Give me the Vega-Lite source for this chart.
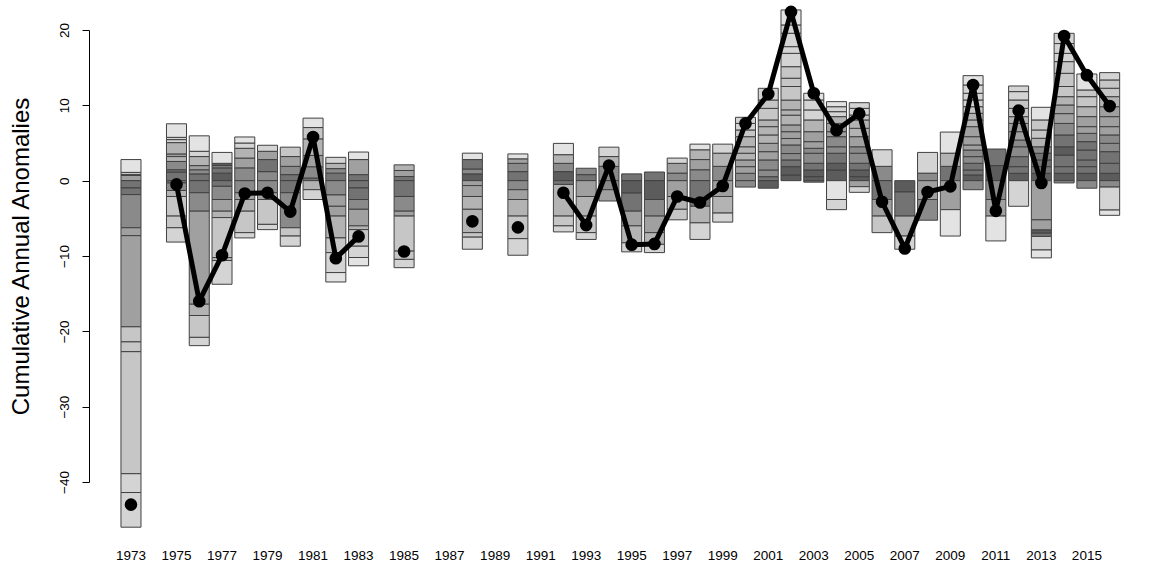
{
"$schema":"https://vega.github.io/schema/vega-lite/v6.json",
"width":1066,"height":452,"autosize":"none",
"padding":{"left":89,"top":30,"right":0,"bottom":85},
"background":"white",
"config":{"view":{"stroke":null},"font":"Liberation Sans",
 "axisY":{"labelAngle":270,"labelAlign":"center","labelBaseline":"bottom","labelFontSize":13.5,"labelColor":"black","tickColor":"black","domainColor":"black","tickSize":7,"labelPadding":11,"grid":false,"titleFontSize":24,"titleFontWeight":"normal","titleColor":"black","titleX":-61,"titleY":226,"titleBaseline":"alphabetic","titleAngle":270},
 "axisX":{"domain":false,"ticks":false,"labelFontSize":13.5,"labelColor":"black","labelPadding":66,"labelAngle":0,"grid":false}},
"datasets":{
"seg":[
{"year":1973,"v":0.7,"g":5,"k":1},{"year":1973,"v":0.1,"g":4,"k":2},{"year":1973,"v":0.3,"g":3,"k":3},{"year":1973,"v":1.7,"g":1,"k":4},
{"year":1973,"v":-0.97,"g":7,"k":5},{"year":1973,"v":-0.88,"g":7,"k":6},{"year":1973,"v":-4.4,"g":6,"k":7},{"year":1973,"v":-1.05,"g":5,"k":8},{"year":1973,"v":-12.1,"g":5,"k":9},{"year":1973,"v":-2.0,"g":3,"k":10},{"year":1973,"v":-1.3,"g":3,"k":11},{"year":1973,"v":-16.2,"g":3,"k":12},{"year":1973,"v":-2.5,"g":2,"k":13},{"year":1973,"v":-4.6,"g":2,"k":14},
{"year":1975,"v":1.15,"g":7,"k":1},{"year":1975,"v":0.3,"g":7,"k":2},{"year":1975,"v":1.1,"g":6,"k":3},{"year":1975,"v":0.65,"g":4,"k":4},{"year":1975,"v":0.35,"g":5,"k":5},{"year":1975,"v":1.5,"g":4,"k":6},{"year":1975,"v":0.4,"g":2,"k":7},{"year":1975,"v":0.3,"g":2,"k":8},{"year":1975,"v":1.8,"g":1,"k":9},
{"year":1975,"v":-0.3,"g":7,"k":10},{"year":1975,"v":-1.0,"g":6,"k":11},{"year":1975,"v":-0.8,"g":4,"k":12},{"year":1975,"v":-2.6,"g":3,"k":13},{"year":1975,"v":-1.55,"g":3,"k":14},{"year":1975,"v":-1.9,"g":2,"k":15},
{"year":1976,"v":0.9,"g":7,"k":1},{"year":1976,"v":0.55,"g":6,"k":2},{"year":1976,"v":0.55,"g":5,"k":3},{"year":1976,"v":1.2,"g":4,"k":4},{"year":1976,"v":0.7,"g":2,"k":5},{"year":1976,"v":2.05,"g":1,"k":6},
{"year":1976,"v":-1.6,"g":7,"k":7},{"year":1976,"v":-2.45,"g":6,"k":8},{"year":1976,"v":-12.35,"g":5,"k":9},{"year":1976,"v":-1.5,"g":4,"k":10},{"year":1976,"v":-2.9,"g":3,"k":11},{"year":1976,"v":-1.1,"g":2,"k":12},
{"year":1977,"v":1.0,"g":8,"k":1},{"year":1977,"v":0.7,"g":7,"k":2},{"year":1977,"v":0.3,"g":6,"k":3},{"year":1977,"v":0.3,"g":8,"k":4},{"year":1977,"v":1.45,"g":1,"k":5},
{"year":1977,"v":-0.75,"g":7,"k":6},{"year":1977,"v":-1.75,"g":6,"k":7},{"year":1977,"v":-1.55,"g":5,"k":8},{"year":1977,"v":-0.85,"g":4,"k":9},{"year":1977,"v":-5.3,"g":3,"k":10},{"year":1977,"v":-0.4,"g":4,"k":11},{"year":1977,"v":-3.15,"g":2,"k":12},
{"year":1978,"v":1.7,"g":6,"k":1},{"year":1978,"v":1.3,"g":5,"k":2},{"year":1978,"v":1.3,"g":4,"k":3},{"year":1978,"v":0.7,"g":2,"k":4},{"year":1978,"v":0.8,"g":1,"k":5},
{"year":1978,"v":-1.6,"g":6,"k":6},{"year":1978,"v":-0.9,"g":5,"k":7},{"year":1978,"v":-1.55,"g":4,"k":8},{"year":1978,"v":-2.85,"g":3,"k":9},{"year":1978,"v":-0.7,"g":2,"k":10},
{"year":1979,"v":1.2,"g":6,"k":1},{"year":1979,"v":1.6,"g":7,"k":2},{"year":1979,"v":1.1,"g":5,"k":3},{"year":1979,"v":0.8,"g":2,"k":4},
{"year":1979,"v":-1.6,"g":6,"k":5},{"year":1979,"v":-0.9,"g":5,"k":6},{"year":1979,"v":-3.3,"g":3,"k":7},{"year":1979,"v":-0.7,"g":2,"k":8},
{"year":1980,"v":0.8,"g":7,"k":1},{"year":1980,"v":1.1,"g":6,"k":2},{"year":1980,"v":1.3,"g":5,"k":3},{"year":1980,"v":1.25,"g":3,"k":4},
{"year":1980,"v":-1.6,"g":7,"k":5},{"year":1980,"v":-4.65,"g":6,"k":6},{"year":1980,"v":-1.1,"g":3,"k":7},{"year":1980,"v":-1.35,"g":2,"k":8},
{"year":1981,"v":0.35,"g":7,"k":1},{"year":1981,"v":1.5,"g":6,"k":2},{"year":1981,"v":1.5,"g":5,"k":3},{"year":1981,"v":2.2,"g":4,"k":4},{"year":1981,"v":1.5,"g":3,"k":5},{"year":1981,"v":1.25,"g":1,"k":6},
{"year":1981,"v":-1.2,"g":4,"k":7},{"year":1981,"v":-1.3,"g":2,"k":8},
{"year":1982,"v":1.0,"g":7,"k":1},{"year":1982,"v":0.6,"g":6,"k":2},{"year":1982,"v":0.7,"g":4,"k":3},{"year":1982,"v":0.8,"g":2,"k":4},
{"year":1982,"v":-1.9,"g":6,"k":5},{"year":1982,"v":-1.5,"g":5,"k":6},{"year":1982,"v":-1.3,"g":5,"k":7},{"year":1982,"v":-2.9,"g":4,"k":8},{"year":1982,"v":-1.95,"g":3,"k":9},{"year":1982,"v":-2.65,"g":2,"k":10},{"year":1982,"v":-1.25,"g":1,"k":11},
{"year":1983,"v":0.8,"g":7,"k":1},{"year":1983,"v":2.0,"g":5,"k":2},{"year":1983,"v":1.0,"g":1,"k":3},
{"year":1983,"v":-0.97,"g":7,"k":4},{"year":1983,"v":-1.53,"g":7,"k":5},{"year":1983,"v":-1.3,"g":6,"k":6},{"year":1983,"v":-2.2,"g":5,"k":7},{"year":1983,"v":-0.5,"g":4,"k":8},{"year":1983,"v":-2.2,"g":3,"k":9},{"year":1983,"v":-1.5,"g":2,"k":10},{"year":1983,"v":-1.1,"g":1,"k":11},
{"year":1985,"v":0.55,"g":7,"k":1},{"year":1985,"v":0.8,"g":5,"k":2},{"year":1985,"v":0.75,"g":4,"k":3},
{"year":1985,"v":-2.1,"g":7,"k":4},{"year":1985,"v":-1.95,"g":6,"k":5},{"year":1985,"v":-0.65,"g":5,"k":6},{"year":1985,"v":-4.65,"g":3,"k":7},{"year":1985,"v":-1.1,"g":3,"k":8},{"year":1985,"v":-1.1,"g":2,"k":9},
{"year":1988,"v":0.9,"g":8,"k":1},{"year":1988,"v":0.65,"g":6,"k":2},{"year":1988,"v":1.25,"g":7,"k":3},{"year":1988,"v":0.85,"g":1,"k":4},
{"year":1988,"v":-0.65,"g":5,"k":5},{"year":1988,"v":-1.45,"g":5,"k":6},{"year":1988,"v":-1.7,"g":4,"k":7},{"year":1988,"v":-3.1,"g":4,"k":8},{"year":1988,"v":-0.6,"g":3,"k":9},{"year":1988,"v":-1.6,"g":2,"k":10},
{"year":1990,"v":1.2,"g":7,"k":1},{"year":1990,"v":1.1,"g":6,"k":2},{"year":1990,"v":0.6,"g":5,"k":3},{"year":1990,"v":0.65,"g":1,"k":4},
{"year":1990,"v":-1.2,"g":6,"k":5},{"year":1990,"v":-1.3,"g":5,"k":6},{"year":1990,"v":-2.2,"g":4,"k":7},{"year":1990,"v":-3.0,"g":3,"k":8},{"year":1990,"v":-2.2,"g":2,"k":9},
{"year":1992,"v":1.2,"g":8,"k":1},{"year":1992,"v":1.1,"g":6,"k":2},{"year":1992,"v":1.15,"g":4,"k":3},{"year":1992,"v":1.5,"g":1,"k":4},
{"year":1992,"v":-0.5,"g":7,"k":5},{"year":1992,"v":-4.2,"g":4,"k":6},{"year":1992,"v":-1.3,"g":3,"k":7},{"year":1992,"v":-0.8,"g":2,"k":8},
{"year":1993,"v":0.8,"g":7,"k":1},{"year":1993,"v":0.85,"g":6,"k":2},
{"year":1993,"v":-2.1,"g":5,"k":3},{"year":1993,"v":-2.6,"g":4,"k":4},{"year":1993,"v":-2.2,"g":3,"k":5},{"year":1993,"v":-0.9,"g":2,"k":6},
{"year":1994,"v":1.9,"g":6,"k":1},{"year":1994,"v":1.3,"g":4,"k":2},{"year":1994,"v":1.25,"g":2,"k":3},
{"year":1994,"v":-1.2,"g":6,"k":4},{"year":1994,"v":-1.5,"g":5,"k":5},
{"year":1995,"v":0.9,"g":7,"k":1},
{"year":1995,"v":-1.65,"g":8,"k":2},{"year":1995,"v":-2.4,"g":7,"k":3},{"year":1995,"v":-1.95,"g":5,"k":4},{"year":1995,"v":-2.25,"g":4,"k":5},{"year":1995,"v":-1.2,"g":2,"k":6},
{"year":1996,"v":1.15,"g":7,"k":1},
{"year":1996,"v":-2.5,"g":8,"k":2},{"year":1996,"v":-2.2,"g":6,"k":3},{"year":1996,"v":-2.2,"g":5,"k":4},{"year":1996,"v":-1.55,"g":4,"k":5},{"year":1996,"v":-1.1,"g":2,"k":6},
{"year":1997,"v":1.0,"g":6,"k":1},{"year":1997,"v":1.3,"g":5,"k":2},{"year":1997,"v":0.7,"g":2,"k":3},
{"year":1997,"v":-2.1,"g":5,"k":4},{"year":1997,"v":-1.7,"g":4,"k":5},{"year":1997,"v":-1.4,"g":3,"k":6},
{"year":1998,"v":1.45,"g":6,"k":1},{"year":1998,"v":1.35,"g":5,"k":2},{"year":1998,"v":1.3,"g":4,"k":3},{"year":1998,"v":0.75,"g":1,"k":4},
{"year":1998,"v":-3.4,"g":7,"k":5},{"year":1998,"v":-2.2,"g":4,"k":6},{"year":1998,"v":-2.2,"g":2,"k":7},
{"year":1999,"v":1.9,"g":6,"k":1},{"year":1999,"v":1.75,"g":4,"k":2},{"year":1999,"v":1.2,"g":2,"k":3},
{"year":1999,"v":-2.1,"g":5,"k":4},{"year":1999,"v":-2.2,"g":4,"k":5},{"year":1999,"v":-1.2,"g":2,"k":6},
{"year":2000,"v":0.98,"g":6,"k":1},{"year":2000,"v":0.88,"g":5,"k":2},{"year":2000,"v":0.89,"g":5,"k":3},{"year":2000,"v":0.89,"g":4,"k":4},{"year":2000,"v":0.86,"g":4,"k":5},{"year":2000,"v":1.34,"g":4,"k":6},{"year":2000,"v":0.89,"g":3,"k":7},{"year":2000,"v":0.87,"g":2,"k":8},{"year":2000,"v":0.81,"g":2,"k":9},
{"year":2000,"v":-0.85,"g":6,"k":10},
{"year":2001,"v":0.53,"g":7,"k":1},{"year":2001,"v":0.89,"g":6,"k":2},{"year":2001,"v":1.33,"g":6,"k":3},{"year":2001,"v":1.1,"g":5,"k":4},{"year":2001,"v":1.11,"g":5,"k":5},{"year":2001,"v":1.11,"g":4,"k":6},{"year":2001,"v":1.1,"g":4,"k":7},{"year":2001,"v":0.89,"g":4,"k":8},{"year":2001,"v":1.54,"g":3,"k":9},{"year":2001,"v":1.11,"g":3,"k":10},{"year":2001,"v":1.55,"g":2,"k":11},
{"year":2001,"v":-1.0,"g":8,"k":12},
{"year":2002,"v":0.76,"g":8,"k":1},{"year":2002,"v":1.1,"g":8,"k":2},{"year":2002,"v":0.89,"g":7,"k":3},{"year":2002,"v":0.85,"g":6,"k":4},{"year":2002,"v":1.14,"g":6,"k":5},{"year":2002,"v":0.86,"g":5,"k":6},{"year":2002,"v":0.9,"g":5,"k":7},{"year":2002,"v":0.9,"g":5,"k":8},{"year":2002,"v":1.3,"g":4,"k":9},{"year":2002,"v":0.7,"g":4,"k":10},{"year":2002,"v":1.3,"g":4,"k":11},{"year":2002,"v":1.8,"g":3,"k":12},{"year":2002,"v":1.1,"g":3,"k":13},{"year":2002,"v":1.53,"g":3,"k":14},{"year":2002,"v":1.77,"g":2,"k":15},{"year":2002,"v":0.89,"g":2,"k":16},{"year":2002,"v":1.78,"g":2,"k":17},{"year":2002,"v":1.1,"g":2,"k":18},{"year":2002,"v":1.99,"g":1,"k":19},
{"year":2003,"v":0.53,"g":8,"k":1},{"year":2003,"v":0.89,"g":8,"k":2},{"year":2003,"v":0.89,"g":7,"k":3},{"year":2003,"v":1.33,"g":6,"k":4},{"year":2003,"v":0.66,"g":6,"k":5},{"year":2003,"v":0.88,"g":5,"k":6},{"year":2003,"v":1.32,"g":5,"k":7},{"year":2003,"v":1.56,"g":4,"k":8},{"year":2003,"v":1.33,"g":2,"k":9},{"year":2003,"v":1.32,"g":2,"k":10},{"year":2003,"v":0.89,"g":1,"k":11},
{"year":2003,"v":-0.2,"g":7,"k":12},
{"year":2004,"v":1.42,"g":8,"k":1},{"year":2004,"v":0.89,"g":8,"k":2},{"year":2004,"v":1.33,"g":7,"k":3},{"year":2004,"v":0.86,"g":6,"k":4},{"year":2004,"v":1.34,"g":6,"k":5},{"year":2004,"v":0.66,"g":5,"k":6},{"year":2004,"v":1.1,"g":5,"k":7},{"year":2004,"v":0.9,"g":4,"k":8},{"year":2004,"v":0.66,"g":2,"k":9},{"year":2004,"v":0.66,"g":2,"k":10},{"year":2004,"v":0.67,"g":1,"k":11},
{"year":2004,"v":-2.5,"g":1,"k":12},{"year":2004,"v":-1.35,"g":2,"k":13},
{"year":2005,"v":0.53,"g":8,"k":1},{"year":2005,"v":0.89,"g":8,"k":2},{"year":2005,"v":0.89,"g":7,"k":3},{"year":2005,"v":1.33,"g":6,"k":4},{"year":2005,"v":0.86,"g":6,"k":5},{"year":2005,"v":1.34,"g":5,"k":6},{"year":2005,"v":1.11,"g":4,"k":7},{"year":2005,"v":1.11,"g":4,"k":8},{"year":2005,"v":0.66,"g":3,"k":9},{"year":2005,"v":0.88,"g":2,"k":10},{"year":2005,"v":0.75,"g":2,"k":11},
{"year":2005,"v":-0.8,"g":5,"k":12},{"year":2005,"v":-0.75,"g":2,"k":13},
{"year":2006,"v":1.9,"g":6,"k":1},{"year":2006,"v":2.2,"g":2,"k":2},
{"year":2006,"v":-2.5,"g":7,"k":3},{"year":2006,"v":-2.2,"g":5,"k":4},{"year":2006,"v":-2.2,"g":3,"k":5},
{"year":2007,"v":-1.5,"g":8,"k":1},{"year":2007,"v":-3.2,"g":7,"k":2},{"year":2007,"v":-2.65,"g":4,"k":3},{"year":2007,"v":-1.75,"g":2,"k":4},
{"year":2008,"v":1.0,"g":6,"k":1},{"year":2008,"v":2.75,"g":2,"k":2},
{"year":2008,"v":-2.5,"g":5,"k":3},{"year":2008,"v":-2.75,"g":6,"k":4},
{"year":2009,"v":1.9,"g":7,"k":1},{"year":2009,"v":1.75,"g":4,"k":2},{"year":2009,"v":2.8,"g":1,"k":3},
{"year":2009,"v":-3.85,"g":5,"k":4},{"year":2009,"v":-3.5,"g":1,"k":5},
{"year":2010,"v":0.76,"g":8,"k":1},{"year":2010,"v":0.66,"g":7,"k":2},{"year":2010,"v":0.89,"g":7,"k":3},{"year":2010,"v":0.88,"g":6,"k":4},{"year":2010,"v":0.88,"g":6,"k":5},{"year":2010,"v":0.67,"g":5,"k":6},{"year":2010,"v":1.1,"g":5,"k":7},{"year":2010,"v":1.33,"g":5,"k":8},{"year":2010,"v":0.89,"g":4,"k":9},{"year":2010,"v":0.88,"g":4,"k":10},{"year":2010,"v":0.88,"g":3,"k":11},{"year":2010,"v":0.89,"g":2,"k":12},{"year":2010,"v":0.89,"g":2,"k":13},{"year":2010,"v":1.1,"g":2,"k":14},{"year":2010,"v":1.24,"g":1,"k":15},
{"year":2010,"v":-1.2,"g":6,"k":16},
{"year":2011,"v":2.0,"g":8,"k":1},{"year":2011,"v":2.2,"g":7,"k":2},
{"year":2011,"v":-2.5,"g":6,"k":3},{"year":2011,"v":-2.2,"g":5,"k":4},{"year":2011,"v":-3.3,"g":1,"k":5},
{"year":2012,"v":0.98,"g":8,"k":1},{"year":2012,"v":0.88,"g":7,"k":2},{"year":2012,"v":1.33,"g":7,"k":3},{"year":2012,"v":1.31,"g":6,"k":4},{"year":2012,"v":0.9,"g":6,"k":5},{"year":2012,"v":1.1,"g":5,"k":6},{"year":2012,"v":1.1,"g":5,"k":7},{"year":2012,"v":0.9,"g":4,"k":8},{"year":2012,"v":1.1,"g":3,"k":9},{"year":2012,"v":1.11,"g":3,"k":10},{"year":2012,"v":1.11,"g":2,"k":11},{"year":2012,"v":0.75,"g":2,"k":12},
{"year":2012,"v":-3.4,"g":2,"k":13},
{"year":2013,"v":0.98,"g":8,"k":1},{"year":2013,"v":0.88,"g":7,"k":2},{"year":2013,"v":0.89,"g":7,"k":3},{"year":2013,"v":0.89,"g":7,"k":4},{"year":2013,"v":0.86,"g":6,"k":5},{"year":2013,"v":1.13,"g":4,"k":6},{"year":2013,"v":1.1,"g":3,"k":7},{"year":2013,"v":1.33,"g":3,"k":8},{"year":2013,"v":1.68,"g":1,"k":9},
{"year":2013,"v":-5.2,"g":5,"k":10},{"year":2013,"v":-1.35,"g":5,"k":11},{"year":2013,"v":-0.42,"g":8,"k":12},{"year":2013,"v":-0.43,"g":7,"k":13},{"year":2013,"v":-1.8,"g":2,"k":14},{"year":2013,"v":-1.05,"g":1,"k":15},
{"year":2014,"v":0.98,"g":8,"k":1},{"year":2014,"v":0.88,"g":7,"k":2},{"year":2014,"v":1.54,"g":7,"k":3},{"year":2014,"v":1.1,"g":8,"k":4},{"year":2014,"v":1.57,"g":7,"k":5},{"year":2014,"v":1.53,"g":6,"k":6},{"year":2014,"v":1.3,"g":5,"k":7},{"year":2014,"v":1.15,"g":5,"k":8},{"year":2014,"v":1.1,"g":4,"k":9},{"year":2014,"v":1.35,"g":3,"k":10},{"year":2014,"v":1.75,"g":3,"k":11},{"year":2014,"v":1.55,"g":3,"k":12},{"year":2014,"v":1.1,"g":2,"k":13},{"year":2014,"v":1.3,"g":2,"k":14},{"year":2014,"v":1.36,"g":2,"k":15},
{"year":2014,"v":-0.3,"g":6,"k":16},
{"year":2015,"v":0.98,"g":8,"k":1},{"year":2015,"v":0.88,"g":7,"k":2},{"year":2015,"v":0.89,"g":7,"k":3},{"year":2015,"v":1.32,"g":7,"k":4},{"year":2015,"v":1.11,"g":7,"k":5},{"year":2015,"v":1.1,"g":6,"k":6},{"year":2015,"v":0.89,"g":5,"k":7},{"year":2015,"v":1.33,"g":5,"k":8},{"year":2015,"v":1.32,"g":4,"k":9},{"year":2015,"v":1.33,"g":3,"k":10},{"year":2015,"v":0.89,"g":3,"k":11},{"year":2015,"v":2.12,"g":1,"k":12},
{"year":2015,"v":-1.0,"g":6,"k":13},
{"year":2016,"v":0.98,"g":8,"k":1},{"year":2016,"v":1.33,"g":7,"k":2},{"year":2016,"v":1.54,"g":7,"k":3},{"year":2016,"v":1.11,"g":6,"k":4},{"year":2016,"v":1.11,"g":6,"k":5},{"year":2016,"v":1.1,"g":5,"k":6},{"year":2016,"v":1.33,"g":5,"k":7},{"year":2016,"v":1.32,"g":5,"k":8},{"year":2016,"v":1.33,"g":4,"k":9},{"year":2016,"v":1.12,"g":3,"k":10},{"year":2016,"v":1.1,"g":3,"k":11},{"year":2016,"v":0.97,"g":2,"k":12},
{"year":2016,"v":-0.85,"g":6,"k":13},{"year":2016,"v":-3.05,"g":2,"k":14},{"year":2016,"v":-0.7,"g":1,"k":15}
],
"cum":[
{"year":1973,"cum":-43.0},{"year":1974,"cum":null},{"year":1975,"cum":-0.5},{"year":1976,"cum":-16.0},{"year":1977,"cum":-9.9},{"year":1978,"cum":-1.7},{"year":1979,"cum":-1.6},{"year":1980,"cum":-4.1},{"year":1981,"cum":5.8},{"year":1982,"cum":-10.3},{"year":1983,"cum":-7.4},{"year":1984,"cum":null},{"year":1985,"cum":-9.4},{"year":1986,"cum":null},{"year":1987,"cum":null},{"year":1988,"cum":-5.4},{"year":1989,"cum":null},{"year":1990,"cum":-6.2},{"year":1991,"cum":null},{"year":1992,"cum":-1.6},{"year":1993,"cum":-5.9},{"year":1994,"cum":2.0},{"year":1995,"cum":-8.5},{"year":1996,"cum":-8.4},{"year":1997,"cum":-2.1},{"year":1998,"cum":-2.9},{"year":1999,"cum":-0.7},{"year":2000,"cum":7.6},{"year":2001,"cum":11.5},{"year":2002,"cum":22.4},{"year":2003,"cum":11.6},{"year":2004,"cum":6.7},{"year":2005,"cum":8.9},{"year":2006,"cum":-2.8},{"year":2007,"cum":-9.0},{"year":2008,"cum":-1.5},{"year":2009,"cum":-0.75},{"year":2010,"cum":12.7},{"year":2011,"cum":-4.0},{"year":2012,"cum":9.3},{"year":2013,"cum":-0.3},{"year":2014,"cum":19.2},{"year":2015,"cum":14.0},{"year":2016,"cum":9.9}
]},
"encoding":{
 "x":{"field":"year","type":"ordinal","title":null,
  "scale":{"domain":[1972,1973,1974,1975,1976,1977,1978,1979,1980,1981,1982,1983,1984,1985,1986,1987,1988,1989,1990,1991,1992,1993,1994,1995,1996,1997,1998,1999,2000,2001,2002,2003,2004,2005,2006,2007,2008,2009,2010,2011,2012,2013,2014,2015,2016,2017],"paddingInner":0.12,"paddingOuter":0.4785,"align":0.4225},
  "axis":{"values":[1973,1975,1977,1979,1981,1983,1985,1987,1989,1991,1993,1995,1997,1999,2001,2003,2005,2007,2009,2011,2013,2015]}}
},
"layer":[
 {"data":{"name":"seg"},
  "mark":{"type":"bar","stroke":"#404040","strokeWidth":1},
  "encoding":{
   "y":{"field":"v","type":"quantitative","stack":"zero","title":"Cumulative Annual Anomalies","scale":{"domain":[-40,20],"nice":false,"zero":false},"axis":{"values":[-40,-30,-20,-10,0,10,20]}},
   "color":{"field":"g","type":"ordinal","legend":null,"scale":{"domain":[1,2,3,4,5,6,7,8],"range":["#e3e3e3","#d4d4d4","#c6c6c6","#b3b3b3","#a0a0a0","#8a8a8a","#737373","#5c5c5c"]}},
   "order":{"field":"k","type":"quantitative"}}},
 {"data":{"values":[{}]},
  "mark":{"type":"rule","color":"black","strokeWidth":1.3},
  "encoding":{"y":{"datum":0}}},
 {"data":{"name":"cum"},
  "mark":{"type":"line","color":"black","strokeWidth":5,"strokeCap":"round","strokeJoin":"round","invalid":"break-paths-filter-domains"},
  "encoding":{"y":{"field":"cum","type":"quantitative","title":"Cumulative Annual Anomalies","axis":{"values":[-40,-30,-20,-10,0,10,20]}}}},
 {"data":{"name":"cum"},
  "mark":{"type":"circle","color":"black","opacity":1,"size":160},
  "encoding":{"y":{"field":"cum","type":"quantitative","title":"Cumulative Annual Anomalies","axis":{"values":[-40,-30,-20,-10,0,10,20]}}}}
]
}
